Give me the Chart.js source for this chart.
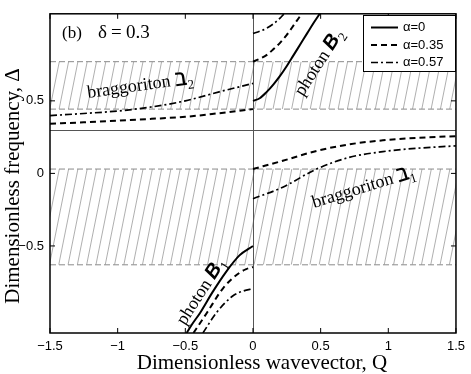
<!DOCTYPE html>
<html>
<head>
<meta charset="utf-8">
<script src="https://cdn.jsdelivr.net/npm/chart.js@4/dist/chart.umd.min.js"></script>
<style>
  body { margin: 0; background: #fff; }
  canvas { display: block; }
</style>
</head>
<body>
<canvas id="myChart" width="471" height="374"></canvas>
<script>
// ---- data (Q, Delta) ----
const xTicks = [-1.5, -1, -0.5, 0, 0.5, 1, 1.5];
const yTicks = [-0.5, 0, 0.5];
const delta = 0.3;

// hatched gaps
const bandLow = [0.443, -0.63];
const bandHigh = [0.77, 0.03];

// alpha = 0 (solid)
const q0Up = [0, 0.05, 0.1, 0.15, 0.2, 0.25, 0.3, 0.35, 0.4, 0.45, 0.5];
const d0Up = [0.5, 0.518, 0.56, 0.612, 0.672, 0.74, 0.815, 0.89, 0.965, 1.04, 1.11];
const q0Low = [-0.49, -0.45, -0.39, -0.3, -0.2, -0.1, 0];
const d0Low = [-1.1, -1.04, -0.96, -0.82, -0.68, -0.565, -0.5];

// alpha = 0.35 (dashed)
const q35UpR = [0, 0.05, 0.1, 0.15, 0.2, 0.25, 0.3, 0.36];
const d35UpR = [0.77, 0.79, 0.815, 0.855, 0.9, 0.955, 1.02, 1.1];
const q35UpL = [-1.5, -1.25, -1, -0.75, -0.5, -0.25, 0];
const d35UpL = [0.343, 0.352, 0.364, 0.376, 0.39, 0.415, 0.443];
const q35LowR = [0, 0.22, 0.47, 0.71, 0.96, 1.21, 1.5];
const d35LowR = [0.03, 0.087, 0.155, 0.2, 0.228, 0.245, 0.257];
const q35LowL = [-0.44, -0.34, -0.22, -0.1, -0.05, 0];
const d35LowL = [-1.1, -0.96, -0.79, -0.685, -0.66, -0.645];

// alpha = 0.57 (dash-dot)
const q57UpR = [0, 0.05, 0.1, 0.15, 0.2, 0.23];
const d57UpR = [0.965, 0.98, 1.0, 1.03, 1.07, 1.1];
const q57UpL = [-1.5, -1.25, -1, -0.75, -0.5, -0.25, 0];
const d57UpL = [0.398, 0.413, 0.43, 0.458, 0.5, 0.562, 0.62];
const q57LowR = [0, 0.22, 0.47, 0.71, 0.96, 1.21, 1.5];
const d57LowR = [-0.175, -0.095, 0.03, 0.11, 0.15, 0.173, 0.19];
const q57LowL = [-0.37, -0.27, -0.15, -0.07, 0];
const d57LowL = [-1.1, -0.96, -0.845, -0.81, -0.795];

const alphaLabels = ['\u03b1=0', '\u03b1=0.35', '\u03b1=0.57'];
const styles = [
  { width: 2, dash: [] },
  { width: 2, dash: [6, 4] },
  { width: 1.7, dash: [7, 3, 2, 3] }
];

function pts(qs, ds) {
  return qs.map((q, i) => ({ x: q, y: ds[i] }));
}

function curve(qs, ds, k) {
  return {
    data: pts(qs, ds),
    showLine: true,
    borderColor: '#000',
    borderWidth: styles[k].width,
    borderDash: styles[k].dash,
    pointRadius: 0,
    cubicInterpolationMode: 'monotone',
    fill: false
  };
}

const datasets = [
  curve(q0Up, d0Up, 0),
  curve(q0Low, d0Low, 0),
  curve(q35UpR, d35UpR, 1),
  curve(q35UpL, d35UpL, 1),
  curve(q35LowR, d35LowR, 1),
  curve(q35LowL, d35LowL, 1),
  curve(q57UpR, d57UpR, 2),
  curve(q57UpL, d57UpL, 2),
  curve(q57LowR, d57LowR, 2),
  curve(q57LowL, d57LowL, 2)
];

function fmt(v) {
  return v < 0 ? '\u2212' + Math.abs(v) : String(v);
}

// hatched gaps + thin reference lines, under the curves
const bandPlugin = {
  id: 'bands',
  beforeDatasetsDraw(chart) {
    const ctx = chart.ctx, a = chart.chartArea;
    const x = chart.scales.x, y = chart.scales.y;
    ctx.save();
    ctx.beginPath();
    ctx.rect(a.left, a.top, a.width, a.height);
    ctx.clip();
    bandLow.forEach((lo, i) => {
      const top = y.getPixelForValue(bandHigh[i]);
      const bot = y.getPixelForValue(lo);
      const slant = (bot - top) * 0.2;
      ctx.save();
      ctx.beginPath();
      ctx.rect(a.left, top, a.width, bot - top);
      ctx.clip();
      ctx.strokeStyle = '#9a9a9a';
      ctx.lineWidth = 0.8;
      ctx.beginPath();
      for (let xx = a.left - slant; xx < a.right + slant; xx += 9.3) {
        ctx.moveTo(xx, bot);
        ctx.lineTo(xx + slant, top);
      }
      ctx.stroke();
      ctx.restore();
      ctx.strokeStyle = '#8a8a8a';
      ctx.lineWidth = 1;
      ctx.setLineDash([6, 3]);
      ctx.beginPath();
      ctx.moveTo(a.left, top); ctx.lineTo(a.right, top);
      ctx.moveTo(a.left, bot); ctx.lineTo(a.right, bot);
      ctx.stroke();
      ctx.setLineDash([]);
    });
    // Q = 0 and Delta = delta
    ctx.strokeStyle = '#555';
    ctx.lineWidth = 1;
    ctx.beginPath();
    const x0 = Math.round(x.getPixelForValue(0)) + 0.5;
    const yd = Math.round(y.getPixelForValue(delta)) + 0.5;
    ctx.moveTo(x0, a.top); ctx.lineTo(x0, a.bottom);
    ctx.moveTo(a.left, yd); ctx.lineTo(a.right, yd);
    ctx.stroke();
    ctx.restore();
  }
};

// frame, inner ticks, labels, legend
const decorPlugin = {
  id: 'decor',
  afterDraw(chart) {
    const ctx = chart.ctx, a = chart.chartArea;
    const x = chart.scales.x, y = chart.scales.y;
    ctx.save();
    ctx.strokeStyle = '#000';
    ctx.lineWidth = 1.5;
    ctx.strokeRect(a.left, a.top, a.width, a.height);
    ctx.lineWidth = 1;
    ctx.beginPath();
    xTicks.forEach(v => {
      const px = x.getPixelForValue(v);
      ctx.moveTo(px, a.bottom); ctx.lineTo(px, a.bottom - 5);
      ctx.moveTo(px, a.top); ctx.lineTo(px, a.top + 5);
    });
    yTicks.forEach(v => {
      const py = y.getPixelForValue(v);
      ctx.moveTo(a.left, py); ctx.lineTo(a.left + 5, py);
      ctx.moveTo(a.right, py); ctx.lineTo(a.right - 5, py);
    });
    ctx.stroke();

    ctx.fillStyle = '#000';
    // axis titles
    ctx.font = '21px "Liberation Serif"';
    ctx.textAlign = 'center';
    ctx.textBaseline = 'alphabetic';
    ctx.fillText('Dimensionless wavevector, Q', 262, 369);
    ctx.save();
    ctx.translate(19, 186);
    ctx.rotate(-Math.PI / 2);
    ctx.fillText('Dimensionless frequency, \u0394', 0, 0);
    ctx.restore();

    // panel label
    ctx.textAlign = 'left';
    ctx.font = '17px "Liberation Serif"';
    ctx.fillText('(b)', 62, 38);
    ctx.font = '19px "Liberation Serif"';
    ctx.fillText('\u03b4', 98, 38);
    ctx.fillText('=', 111, 38);
    ctx.fillText('0.3', 126, 38);

    // rotated annotations
    function label(px, py, ang, word, sym, sub, symFont) {
      ctx.save();
      ctx.translate(px, py);
      ctx.rotate(ang);
      ctx.textAlign = 'left';
      ctx.font = '18px "Liberation Serif"';
      ctx.fillText(word, 0, 0);
      let w = ctx.measureText(word).width;
      ctx.font = symFont;
      ctx.fillText(sym, w, 0);
      w += ctx.measureText(sym).width;
      ctx.font = '13px "Liberation Serif"';
      ctx.fillText(sub, w, 5);
      ctx.restore();
    }
    label(88, 98, -0.14, 'braggoriton ', '\u2136', '2', 'bold 22px "DejaVu Serif"');
    label(314, 208, -0.30, 'braggoriton ', '\u2136', '1', 'bold 22px "DejaVu Serif"');
    label(303, 97, -1.0, 'photon ', 'B', '2', 'bold italic 20px "Liberation Sans"');
    label(185, 326, -1.0, 'photon ', 'B', '1', 'bold italic 20px "Liberation Sans"');

    // legend box
    ctx.fillStyle = '#fff';
    ctx.fillRect(363, 15, 93, 57);
    ctx.strokeStyle = '#000';
    ctx.lineWidth = 1;
    ctx.strokeRect(363.5, 15.5, 92, 56);
    ctx.font = '13px "Liberation Sans"';
    ctx.textBaseline = 'middle';
    alphaLabels.forEach((t, i) => {
      const ry = 27.5 + i * 17.5;
      ctx.lineWidth = styles[i].width;
      ctx.setLineDash(styles[i].dash);
      ctx.beginPath();
      ctx.moveTo(371, ry); ctx.lineTo(398, ry);
      ctx.stroke();
      ctx.setLineDash([]);
      ctx.fillStyle = '#000';
      ctx.fillText(t, 403, ry);
    });
    ctx.restore();
  }
};

const config = {
  type: 'scatter',
  data: { datasets: datasets },
  options: {
    responsive: false,
    animation: false,
    devicePixelRatio: 1,
    layout: { padding: { left: 0, right: 14, top: 12, bottom: 0 } },
    plugins: { legend: { display: false }, tooltip: { enabled: false } },
    scales: {
      x: {
        type: 'linear',
        min: -1.5,
        max: 1.5,
        grid: { display: false, drawTicks: false },
        border: { display: false },
        afterBuildTicks: s => { s.ticks = xTicks.map(v => ({ value: v })); },
        afterFit: s => { s.height = 41; },
        ticks: {
          padding: 6,
          color: '#000',
          font: { family: 'Liberation Sans', size: 13 },
          maxRotation: 0,
          callback: v => fmt(v)
        }
      },
      y: {
        type: 'linear',
        min: -1.1,
        max: 1.1,
        grid: { display: false, drawTicks: false },
        border: { display: false },
        afterBuildTicks: s => { s.ticks = yTicks.map(v => ({ value: v })); },
        afterFit: s => { s.width = 50; },
        ticks: {
          padding: 6,
          color: '#000',
          font: { family: 'Liberation Sans', size: 13 },
          callback: v => fmt(v)
        }
      }
    }
  },
  plugins: [bandPlugin, decorPlugin]
};

const myChart = new Chart(document.getElementById('myChart'), config);
</script>
</body>
</html>
